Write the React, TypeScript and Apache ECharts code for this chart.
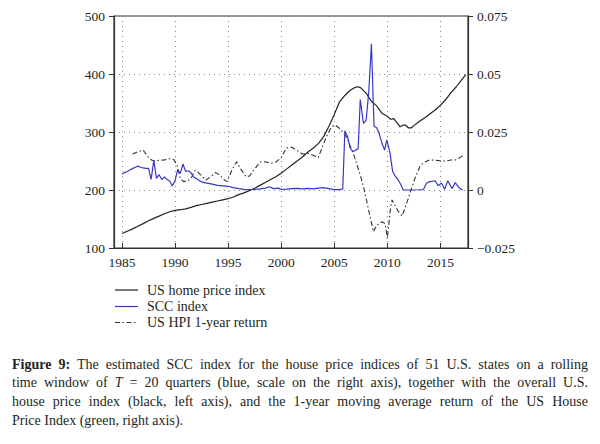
import React, { useEffect, useRef } from "react";
import * as echarts from "echarts";

// US home price index (left axis)
const hpiYears = [1985.0, 1985.5, 1986.0, 1986.5, 1987.0, 1987.5, 1988.0, 1988.5, 1989.0, 1989.5, 1990.0, 1990.5, 1991.0, 1991.5, 1992.0, 1992.5, 1993.0, 1993.5, 1994.0, 1994.5, 1995.0, 1995.5, 1996.0, 1996.5, 1997.0, 1997.5, 1998.0, 1998.5, 1999.0, 1999.5, 2000.0, 2000.5, 2001.0, 2001.5, 2002.0, 2002.5, 2003.0, 2003.5, 2004.0, 2004.5, 2005.0, 2005.5, 2006.0, 2006.5, 2007.0, 2007.25, 2007.5, 2008.0, 2008.5, 2009.0, 2009.5, 2010.0, 2010.3, 2010.6, 2011.0, 2011.2, 2011.5, 2011.7, 2012.0, 2012.25, 2012.5, 2013.0, 2013.5, 2014.0, 2014.5, 2015.0, 2015.5, 2016.0, 2016.5, 2017.0, 2017.4];
const hpiValues = [125, 129, 133, 137.5, 142, 147, 151, 155, 159, 162.5, 165, 166, 167.5, 170, 173, 175, 177, 179, 181, 183, 185, 188, 192, 195, 199, 203, 208, 213, 218, 223, 229, 236, 243, 250, 257, 265, 272, 280, 292, 310, 330, 352, 363, 372, 377, 378, 376, 367, 353, 345, 332, 327, 322, 323, 314, 309, 312, 312, 307, 307, 311, 318, 324, 331, 338, 346, 356, 368, 378, 390, 399];

// SCC index (right axis)
const sccYears = [1985.0, 1985.25, 1985.5, 1985.75, 1986.0, 1986.25, 1986.5, 1986.75, 1987.0, 1987.25, 1987.5, 1987.75, 1988.0, 1988.25, 1988.5, 1988.75, 1989.0, 1989.25, 1989.5, 1989.75, 1990.0, 1990.25, 1990.5, 1990.75, 1991.0, 1991.25, 1991.5, 1991.75, 1992.0, 1992.5, 1993.0, 1993.5, 1994.0, 1994.5, 1995.0, 1995.5, 1996.0, 1996.5, 1997.0, 1997.5, 1998.0, 1998.5, 1998.9, 1999.25, 1999.75, 2000.0, 2000.5, 2001.0, 2001.5, 2002.0, 2002.5, 2003.0, 2003.5, 2004.0, 2004.5, 2005.0, 2005.5, 2005.8, 2006.0, 2006.25, 2006.5, 2006.75, 2007.0, 2007.25, 2007.45, 2007.75, 2008.0, 2008.25, 2008.5, 2008.75, 2009.0, 2009.25, 2009.5, 2009.75, 2009.95, 2010.25, 2010.5, 2010.75, 2011.0, 2011.25, 2011.5, 2012.0, 2012.5, 2013.0, 2013.4, 2013.7, 2014.0, 2014.5, 2014.8, 2015.1, 2015.4, 2015.7, 2016.1, 2016.4, 2016.8, 2017.1];
const sccValues = [0.0068, 0.0075, 0.008, 0.0086, 0.0092, 0.0098, 0.0103, 0.0098, 0.0095, 0.0093, 0.0093, 0.0046, 0.0128, 0.005, 0.0066, 0.0045, 0.0056, 0.0046, 0.0038, 0.0017, 0.004, 0.0088, 0.0072, 0.0112, 0.008, 0.0083, 0.0075, 0.0056, 0.005, 0.0035, 0.003, 0.0025, 0.002, 0.0018, 0.0016, 0.001, 0.0006, 0.0003, 0.0002, 0.0003, 0.0005, 0.0008, 0.0014, 0.0006, 0.0008, 0.0003, 0.0004, 0.0006, 0.0007, 0.0005, 0.0007, 0.0005, 0.0008, 0.001, 0.0006, 0.0002, 0.0002, 0.0004, 0.0255, 0.023, 0.018, 0.0165, 0.0172, 0.0178, 0.039, 0.0287, 0.03, 0.042, 0.063, 0.0275, 0.0268, 0.024, 0.02, 0.0172, 0.0216, 0.016, 0.008, 0.006, 0.0045, 0.0025, 0.0, 0.0, 0.0, 0.0001, 0.0002, 0.003, 0.0036, 0.004, 0.0018, 0.003, 0.0003, 0.004, 0.0006, 0.0032, 0.0008, 0.0];

// US HPI 1-year return (right axis)
const retYears = [1986.0, 1986.5, 1987.0, 1987.5, 1987.75, 1988.0, 1988.5, 1989.0, 1989.5, 1989.9, 1990.2, 1990.5, 1990.8, 1991.2, 1991.5, 1991.9, 1992.2, 1992.5, 1992.9, 1993.3, 1993.8, 1994.2, 1994.6, 1994.9, 1995.4, 1995.8, 1996.2, 1996.7, 1997.0, 1997.5, 1998.0, 1998.5, 1999.0, 1999.5, 2000.0, 2000.5, 2001.0, 2001.5, 2002.0, 2002.5, 2003.0, 2003.5, 2004.0, 2004.4, 2004.8, 2005.1, 2005.5, 2005.9, 2006.2, 2006.5, 2006.8, 2007.2, 2007.5, 2007.8, 2008.1, 2008.4, 2008.7, 2009.0, 2009.5, 2009.8, 2010.0, 2010.3, 2010.45, 2010.7, 2011.0, 2011.4, 2011.8, 2012.2, 2012.6, 2013.1, 2013.4, 2014.0, 2014.5, 2015.0, 2015.5, 2016.0, 2016.5, 2017.0, 2017.25];
const retValues = [0.0155, 0.0165, 0.0172, 0.014, 0.013, 0.0125, 0.0128, 0.013, 0.0135, 0.013, 0.0105, 0.005, 0.0036, 0.004, 0.005, 0.0085, 0.0075, 0.006, 0.0043, 0.0055, 0.0075, 0.0065, 0.0045, 0.0036, 0.009, 0.0122, 0.009, 0.0057, 0.006, 0.009, 0.012, 0.0122, 0.0115, 0.012, 0.014, 0.0182, 0.0184, 0.017, 0.0155, 0.0158, 0.015, 0.014, 0.02, 0.0244, 0.0275, 0.028, 0.0265, 0.0245, 0.0225, 0.019, 0.0158, 0.01, 0.0057, 0.0005, -0.0057, -0.012, -0.018, -0.0152, -0.0137, -0.0145, -0.021, -0.0079, -0.0043, -0.0065, -0.009, -0.0112, -0.006, -0.0005, 0.005, 0.0105, 0.0118, 0.013, 0.0128, 0.0126, 0.0125, 0.0129, 0.013, 0.0145, 0.015];

const seriesNames = ["US home price index", "SCC index", "US HPI 1-year return"];
const seriesColors = ["#222222", "#3838c8", "#333333"];
const RET_DASH = [5, 2.5, 1.5, 2.5];

const captionLines = [
  "Figure 9: The estimated SCC index for the house price indices of 51 U.S. states on a rolling",
  "time window of T = 20 quarters (blue, scale on the right axis), together with the overall U.S.",
  "house price index (black, left axis), and the 1-year moving average return of the US House",
  "Price Index (green, right axis).",
];

const FONT = '"Liberation Serif", "DejaVu Serif", serif';
const TEXT_COLOR = "#231f20";

function zip(xs: number[], ys: number[]) {
  return xs.map((x, i) => [x, ys[i]]);
}

function buildLegend(): any[] {
  const els: any[] = [];
  const x0 = 115;
  const x1 = 138;
  const tx = 147;
  const rows = [290, 306.5, 322.5];
  seriesNames.forEach((name, i) => {
    els.push({
      type: "line",
      silent: true,
      shape: { x1: x0, y1: rows[i], x2: x1, y2: rows[i] },
      style: { stroke: seriesColors[i], lineWidth: 1.2, lineDash: i === 2 ? RET_DASH : null },
    });
    els.push({
      type: "text",
      silent: true,
      x: tx,
      y: rows[i],
      style: { text: name, font: `14px ${FONT}`, fill: TEXT_COLOR, verticalAlign: "middle", align: "left" },
    });
  });
  return els;
}

function buildCaption(): any[] {
  const canvas = document.createElement("canvas");
  const ctx = canvas.getContext("2d") as CanvasRenderingContext2D;
  const size = 14;
  const left = 12;
  const right = 588;
  const top = 364;
  const lineH = 18.7;
  const els: any[] = [];
  captionLines.forEach((line, li) => {
    const words = line.split(" ");
    const toks = words.map((w, wi) => {
      const bold = li === 0 && wi < 2;
      const italic = li === 1 && w === "T";
      const font = `${italic ? "italic " : ""}${bold ? "bold " : ""}${size}px ${FONT}`;
      ctx.font = font;
      return { w, font, width: ctx.measureText(w).width };
    });
    const total = toks.reduce((s, t) => s + t.width, 0);
    ctx.font = `${size}px ${FONT}`;
    const space = ctx.measureText(" ").width;
    const last = li === captionLines.length - 1;
    const gap = last ? space : (right - left - total) / (toks.length - 1);
    let x = left;
    const y = top + li * lineH;
    toks.forEach((t) => {
      els.push({
        type: "text",
        x,
        y,
        silent: true,
        style: { text: t.w, font: t.font, fill: TEXT_COLOR, verticalAlign: "middle", align: "left" },
      });
      x += t.width + gap;
    });
  });
  return els;
}

export default function App() {
  const ref = useRef<HTMLDivElement>(null);
  useEffect(() => {
    if (!ref.current) return;
    const chart = echarts.init(ref.current, undefined, { renderer: "svg" });
    const labelStyle = { fontFamily: FONT, fontSize: 13.5, color: TEXT_COLOR };
    const axisLineStyle = { color: "#333", width: 1.2 };
    const dotted = { type: [1, 4] as any, color: "#8a8a8a", width: 1 };
    chart.setOption({
      animation: false,
      backgroundColor: "#fff",
      grid: { left: 114, right: 132, top: 16, height: 232, show: true, borderColor: "#333", borderWidth: 1.2 },
      xAxis: {
        type: "value",
        min: 1984.25,
        max: 2017.6,
        splitNumber: 7,
        minInterval: 5,
        maxInterval: 5,
        axisLine: { onZero: false, lineStyle: axisLineStyle },
        axisTick: { inside: true, length: 5, lineStyle: { color: "#333" } },
        axisLabel: {
          ...labelStyle,
          margin: 7,
          formatter: (v: number) => (Math.abs(v % 5) < 1e-6 ? String(Math.round(v)) : ""),
        },
        splitLine: { show: true, lineStyle: dotted },
      },
      yAxis: [
        {
          type: "value",
          min: 100,
          max: 500,
          interval: 100,
          position: "left",
          axisLine: { show: true, lineStyle: axisLineStyle },
          axisTick: { show: true, length: 5, lineStyle: { color: "#333" } },
          axisLabel: { ...labelStyle, margin: 9 },
          splitLine: { show: true, lineStyle: dotted },
        },
        {
          type: "value",
          min: -0.025,
          max: 0.075,
          interval: 0.025,
          position: "right",
          axisLine: { show: true, lineStyle: axisLineStyle },
          axisTick: { show: true, length: 5, lineStyle: { color: "#333" } },
          axisLabel: {
            ...labelStyle,
            margin: 9,
            formatter: (v: number) => {
              const r = Math.round(v * 1000) / 1000;
              return r < 0 ? "\u2212" + String(-r) : String(r);
            },
          },
          splitLine: { show: false },
        },
      ],
      series: [
        {
          name: seriesNames[0],
          type: "line",
          yAxisIndex: 0,
          symbol: "none",
          data: zip(hpiYears, hpiValues),
          lineStyle: { color: seriesColors[0], width: 1.2 },
          z: 3,
        },
        {
          name: seriesNames[1],
          type: "line",
          yAxisIndex: 1,
          symbol: "none",
          data: zip(sccYears, sccValues),
          lineStyle: { color: seriesColors[1], width: 1.2 },
          z: 4,
        },
        {
          name: seriesNames[2],
          type: "line",
          yAxisIndex: 1,
          symbol: "none",
          data: zip(retYears, retValues),
          lineStyle: { color: seriesColors[2], width: 1.1, type: RET_DASH as any },
          z: 2,
        },
      ],
      graphic: [...buildLegend(), ...buildCaption()],
    });
    return () => chart.dispose();
  }, []);
  return (
    <div
      ref={ref}
      style={{ position: "absolute", left: 0, top: 0, width: 600, height: 444, background: "#fff" }}
    />
  );
}
